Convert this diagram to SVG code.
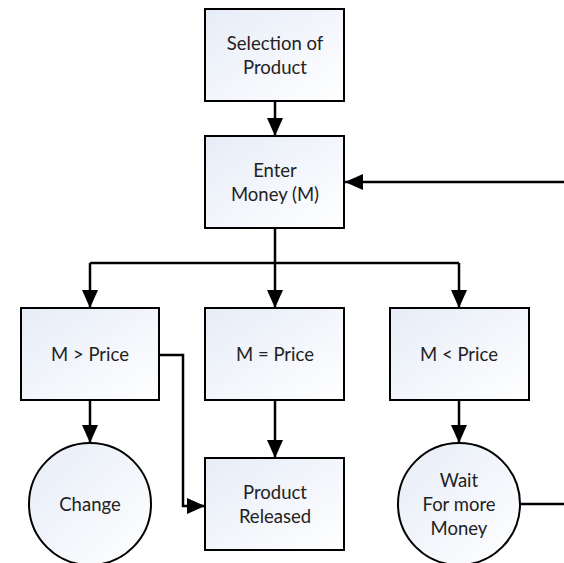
<svg xmlns="http://www.w3.org/2000/svg" width="564" height="563" viewBox="0 0 564 563">
<defs>
<linearGradient id="g" x1="0" y1="0" x2="1" y2="1">
<stop offset="0" stop-color="#e6ecf7"/>
<stop offset="1" stop-color="#ffffff"/>
</linearGradient>
<marker id="ah" viewBox="0 0 18 16" refX="18" refY="8" markerWidth="18" markerHeight="16" markerUnits="userSpaceOnUse" orient="auto">
<path d="M0,0 L18,8 L0,16 z" fill="#000"/>
</marker>
</defs>
<style>
.n{fill:url(#g);stroke:#000;stroke-width:2}
.t{font-family:Lato,"Liberation Sans",Arial,sans-serif;font-size:18.5px;fill:#222;text-anchor:middle}
.c{fill:none;stroke:#000;stroke-width:2.5;marker-end:url(#ah)}
.l{fill:none;stroke:#000;stroke-width:2.5}
</style>
<g id="connectors">
<path class="c" d="M275,101 V136"/>
<path class="c" d="M564,182 H345"/>
<path class="l" d="M275,228 V263"/>
<path class="c" d="M275,263 V308"/>
<path class="c" d="M90,263 V308"/>
<path class="c" d="M459,263 V308"/>
<path class="l" d="M90,263 H459"/>
<path class="c" d="M90,400 V443"/>
<path class="c" d="M275,400 V458"/>
<path class="c" d="M459,400 V443"/>
<path class="c" d="M159,355 H183 V506 H205"/>
<path class="l" d="M520,504 H564"/>
</g>
<g id="selection">
<rect class="n" x="205" y="9" width="139" height="92"/>
<text class="t" x="275" y="50">Selection of</text>
<text class="t" x="275" y="74">Product</text>
</g>
<g id="enter">
<rect class="n" x="205" y="136" width="139" height="92"/>
<text class="t" x="275" y="177">Enter</text>
<text class="t" x="275" y="201">Money (M)</text>
</g>
<g id="gt">
<rect class="n" x="21" y="308" width="138" height="92"/>
<text class="t" x="90" y="361">M &gt; Price</text>
</g>
<g id="eq">
<rect class="n" x="205" y="308" width="139" height="92"/>
<text class="t" x="275" y="361">M = Price</text>
</g>
<g id="lt">
<rect class="n" x="390" y="308" width="139" height="92"/>
<text class="t" x="459" y="361">M &lt; Price</text>
</g>
<g id="change">
<circle class="n" cx="90" cy="504" r="61"/>
<text class="t" x="90" y="511">Change</text>
</g>
<g id="released">
<rect class="n" x="205" y="458" width="139" height="92"/>
<text class="t" x="275" y="499">Product</text>
<text class="t" x="275" y="523">Released</text>
</g>
<g id="wait">
<circle class="n" cx="459" cy="504" r="61"/>
<text class="t" x="459" y="487">Wait</text>
<text class="t" x="459" y="511">For more</text>
<text class="t" x="459" y="535">Money</text>
</g>
</svg>
